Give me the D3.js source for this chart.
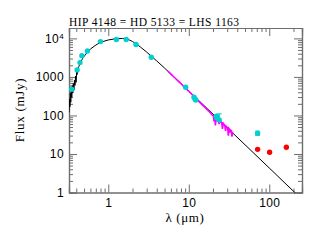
<!DOCTYPE html>
<html><head><meta charset="utf-8">
<script src="https://cdn.jsdelivr.net/npm/d3@7"></script>
<style>body{margin:0;background:#fff}svg{display:block}</style>
</head><body>
<script>
const title = "HIP 4148 = HD 5133 = LHS 1163";
const xLabel = "λ (μm)";
const yLabel = "Flux (mJy)";
const xMajorTicks = [1, 10, 100];
const yMajorTicks = [1, 10, 100, 1000, 10000];
// model photosphere [wavelength um, flux mJy]
const modelWave = [0.325,0.33,0.334,0.338,0.342,0.347,0.352,0.357,0.362,0.368,0.374,0.38,0.386,0.392,0.398,0.405,0.41,0.42,0.43,0.45,0.48,0.5,0.55,0.6,0.7,0.8,1.0,1.2,1.5,1.7,2.0,2.2,2.5,3.0,3.5,4.0,5,6,8,10,15,20,30,50,100,215];
const modelFlux = [120,260,170,380,220,470,300,600,380,680,450,820,600,1050,720,1350,1150,1700,1850,2350,3000,3400,4400,5300,6700,7900,9100,9700,10000,9800,8300,7300,6000,4400,3300,2600,1700,1180,670,430,192,108,48,17.3,4.33,0.93];
// IRS spectrum
const specWave = [5.5,5.8,6.1,6.4,6.7,7.0,7.4,7.8,8.2,8.6,9.0,9.5,10.0,10.5,11.0,11.5,12.0,12.5,13.0,13.6,14.2,14.8,15.4,16.0,16.7,17.4,18.1,18.8,19.5,20.2,20.6,21.0,21.4,22.0,22.6,23.2,23.8,24.4,25.0,25.6,26.2,26.8,27.4,28.0,28.6,29.2,29.8,30.4,31.0,31.5,32.0,32.6,33.2,33.8,34.4,35.0];
const specFlux = [1420,1270,1150,1040,950,870,780,700,635,570,520,470,425,385,350,318,292,265,245,222,202,185,171,158,145,133,123,112,104,98,70,92,55,86,81,77,60,72,68,66,45,62,58,56,40,52,50,48,30,46,44,36,41,40,28,38];
// photometry
const photWave = [0.35,0.41,0.445,0.47,0.55,0.80,1.26,1.67,2.21,3.42,9.15,11.6,12.0,12.2,22.4,23.9,22.0,71.6];
const photFlux = [480,1520,2350,3560,4730,8260,9330,9330,6910,3240,538,297,264,250,89,76,95,34.6];
const photErrLo = [480,1520,2350,3560,4730,8260,9330,9330,6910,3240,538,297,264,250,80,70,88,30.5];
const photErrHi = [480,1520,2350,3560,4730,8260,9330,9330,6910,3240,538,297,264,250,98,110,102,39];
const farWave = [71.6,101,163];
const farFlux = [13.2,11.1,14.9];

const W = 319, H = 242;
const svg = d3.select("body").append("svg").attr("width", W).attr("height", H)
  .style("font-family", "'Liberation Serif', 'DejaVu Serif', serif");
const L = 69, R = 302, T = 28, B = 192.5;
const x = d3.scaleLog().domain([0.325, 255]).range([L, R]);
const y = d3.scaleLog().domain([1, 18600]).range([B, T]);
const axisColor = "#6e6e6e";

function minors(lo, hi) {
  const out = [];
  for (let d = Math.floor(Math.log10(lo)); d <= Math.ceil(Math.log10(hi)); d++) {
    for (let m = 2; m <= 9; m++) { const v = m * Math.pow(10, d); if (v > lo && v < hi) out.push(v); }
  }
  return out;
}
const xMin = minors(0.325, 255), yMin = minors(1, 18600);

const defs = svg.append("defs");
defs.append("clipPath").attr("id", "clip").append("rect").attr("x", L).attr("y", T).attr("width", R - L).attr("height", B - T);

function styleAxis(g) {
  g.selectAll("path").attr("stroke", axisColor).attr("stroke-width", 1.2);
  g.selectAll("line").attr("stroke", axisColor).attr("stroke-width", 1);
  g.selectAll("text").attr("fill", "#000").attr("font-size", 12).attr("letter-spacing", 0.4);
}
// bottom
svg.append("g").attr("transform", `translate(0,${B})`)
  .call(d3.axisBottom(x).tickValues(xMin).tickSize(-4).tickFormat("")).call(styleAxis);
svg.append("g").attr("transform", `translate(0,${B})`)
  .call(d3.axisBottom(x).tickValues(xMajorTicks).tickSize(-8).tickPadding(6).tickFormat(d3.format("d"))).call(styleAxis);
// top
svg.append("g").attr("transform", `translate(0,${T})`)
  .call(d3.axisTop(x).tickValues(xMin).tickSize(-4).tickFormat("")).call(styleAxis);
svg.append("g").attr("transform", `translate(0,${T})`)
  .call(d3.axisTop(x).tickValues(xMajorTicks).tickSize(-8).tickFormat("")).call(styleAxis);
// left
svg.append("g").attr("transform", `translate(${L},0)`)
  .call(d3.axisLeft(y).tickValues(yMin).tickSize(-4).tickFormat("")).call(styleAxis);
const yl = svg.append("g").attr("transform", `translate(${L},0)`)
  .call(d3.axisLeft(y).tickValues(yMajorTicks).tickSize(-8).tickPadding(5).tickFormat(d => d >= 10000 ? "" : d3.format("d")(d))).call(styleAxis);
yl.selectAll(".tick").filter(d => d === 10000).select("text")
  .call(t => { t.append("tspan").text("10"); t.append("tspan").attr("dy", "-0.45em").attr("font-size", 8).text("4"); });
// right
svg.append("g").attr("transform", `translate(${R},0)`)
  .call(d3.axisRight(y).tickValues(yMin).tickSize(-4).tickFormat("")).call(styleAxis);
svg.append("g").attr("transform", `translate(${R},0)`)
  .call(d3.axisRight(y).tickValues(yMajorTicks).tickSize(-8).tickFormat("")).call(styleAxis);

const plot = svg.append("g").attr("clip-path", "url(#clip)");
const line = d3.line().x(d => x(d[0])).y(d => y(d[1]));
plot.append("path").datum(modelWave.map((w, i) => [w, modelFlux[i]]))
  .attr("d", line).attr("fill", "none").attr("stroke", "#000").attr("stroke-width", 1);
plot.append("path").datum(specWave.map((w, i) => [w, specFlux[i]]))
  .attr("d", line).attr("fill", "none").attr("stroke", "#ff00ff").attr("stroke-width", 1.6);

const phot = photWave.map((w, i) => ({ w, f: photFlux[i], lo: photErrLo[i], hi: photErrHi[i] }));
const eb = plot.append("g").attr("stroke", "#00cccc").attr("stroke-width", 1);
eb.selectAll("line.v").data(phot.filter(d => d.hi > d.lo)).join("line")
  .attr("x1", d => x(d.w)).attr("x2", d => x(d.w)).attr("y1", d => y(d.lo)).attr("y2", d => y(d.hi));
eb.selectAll("line.c1").data(phot.filter(d => d.hi > d.lo)).join("line").attr("class", "c1")
  .attr("x1", d => x(d.w) - 2.5).attr("x2", d => x(d.w) + 2.5).attr("y1", d => y(d.hi)).attr("y2", d => y(d.hi));
eb.selectAll("line.c2").data(phot.filter(d => d.hi > d.lo)).join("line").attr("class", "c2")
  .attr("x1", d => x(d.w) - 2.5).attr("x2", d => x(d.w) + 2.5).attr("y1", d => y(d.lo)).attr("y2", d => y(d.lo));
plot.selectAll("circle.p").data(phot).join("circle").attr("class", "p")
  .attr("cx", d => x(d.w)).attr("cy", d => y(d.f)).attr("r", 2.7).attr("fill", "#00d0d0");
plot.selectAll("circle.r").data(farWave.map((w, i) => [w, farFlux[i]])).join("circle").attr("class", "r")
  .attr("cx", d => x(d[0])).attr("cy", d => y(d[1])).attr("r", 2.7).attr("fill", "#ff0000");

svg.append("text").attr("x", L).attr("y", 26).attr("font-size", 11.5)
  .attr("textLength", 170).attr("lengthAdjust", "spacing").text(title);
svg.append("text").attr("x", 185).attr("y", 222).attr("text-anchor", "middle").attr("font-size", 13).attr("letter-spacing", 0.6).text(xLabel);
svg.append("text").attr("transform", `translate(24,110) rotate(-90)`).attr("text-anchor", "middle").attr("font-size", 13).attr("letter-spacing", 0.7).text(yLabel);
</script>
</body></html>
